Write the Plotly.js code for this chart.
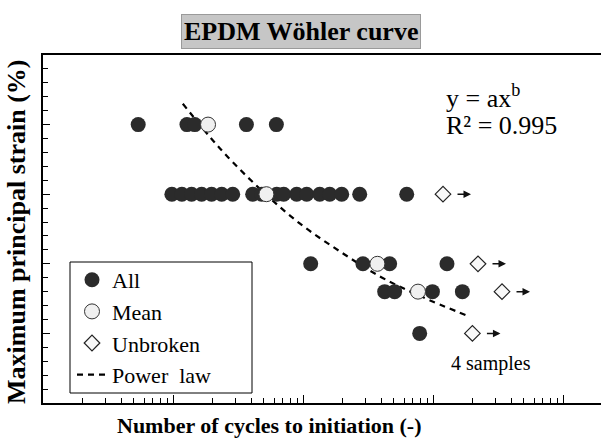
<!DOCTYPE html>
<html>
<head>
<meta charset="utf-8">
<script src="https://cdn.plot.ly/plotly-3.0.1.min.js"></script>
<style>html,body{margin:0;padding:0;background:#fff;}#chart{width:601px;height:441px;}</style>
</head>
<body>
<div id="chart"></div>
<script>
// Number of cycles to initiation (all broken samples) and their max principal strain level
var allCycles = [5400, 12800, 14700, 36700, 62400,
  9800, 11700, 13900, 16600, 19800, 23700, 28800, 41000, 48100, 62800, 71000, 89400, 106800, 134500, 160500, 198500, 273000, 628000,
  114600, 289000, 464000, 1281000,
  425000, 507000, 990000, 1683000,
  790000];
var allStrain = [20, 20, 20, 20, 20,
  15, 15, 15, 15, 15, 15, 15, 15, 15, 15, 15, 15, 15, 15, 15, 15, 15, 15,
  10, 10, 10, 10,
  8, 8, 8, 8,
  5];
// Mean per strain level
var meanCycles = [18600, 52300, 373600, 766600];
var meanStrain = [20, 15, 10, 8];
// Unbroken (run-out) samples
var unbrokenCycles = [1194000, 2219000, 3395000, 2010000];
var unbrokenStrain = [15, 10, 8, 5];
// Power law fit line
var fitCycles = [11900, 22900, 46400, 94300, 191600, 389000, 790000, 1916000];
var fitStrain = [21.5, 18.3, 15.4, 12.9, 10.9, 9.1, 7.7, 6.2];

var serif = 'Liberation Serif, Times New Roman, serif';

var traces = [
  {x: fitCycles, y: fitStrain, type: 'scatter', mode: 'lines', name: 'Power\u00a0 law', legendgroup: 'd', legendrank: 4,
   line: {color: '#000', width: 2.2, dash: '6px,5px', shape: 'spline'}},
  {x: allCycles, y: allStrain, type: 'scatter', mode: 'markers', name: 'All', legendgroup: 'a', legendrank: 1,
   marker: {symbol: 'circle', size: 15, color: '#2b2b2b', line: {width: 0}}},
  {x: meanCycles, y: meanStrain, type: 'scatter', mode: 'markers', name: 'Mean', legendgroup: 'b', legendrank: 2,
   marker: {symbol: 'circle', size: 15, color: '#f0f0f0', line: {width: 1, color: '#333'}}},
  {x: unbrokenCycles, y: unbrokenStrain, type: 'scatter', mode: 'markers', name: 'Unbroken', legendgroup: 'c', legendrank: 3,
   marker: {symbol: 'diamond', size: 12, color: '#f8f8f8', line: {width: 1.2, color: '#222'}}}
];

var L = 43, T = 55, W = 558, H = 348;
function px(x) { return (x - L) / W; }
function py(y) { return (T + H - y) / H; }

var annotations = [
  {text: '<b>EPDM Wöhler curve</b>', xref: 'paper', yref: 'paper', x: px(301), y: py(31),
   xanchor: 'center', yanchor: 'middle', showarrow: false,
   font: {family: serif, size: 26, color: '#000'}, bgcolor: '#c6c6c6', bordercolor: '#9a9a9a', borderwidth: 1, borderpad: 2},
  {text: '<b>Number of cycles to initiation (-)</b>', xref: 'paper', yref: 'paper', x: px(269), y: py(425),
   xanchor: 'center', yanchor: 'middle', showarrow: false, font: {family: serif, size: 22, color: '#000'}},
  {text: '<b>Maximum principal strain (%)</b>', xref: 'paper', yref: 'paper', x: px(16), y: py(232),
   xanchor: 'center', yanchor: 'middle', showarrow: false, textangle: -90, font: {family: serif, size: 26, color: '#000'}},
  {text: 'y = ax<sup>b</sup>', xref: 'paper', yref: 'paper', x: px(444), y: py(96),
   xanchor: 'left', yanchor: 'middle', showarrow: false, font: {family: serif, size: 26, color: '#000'}},
  {text: 'R² = 0.995', xref: 'paper', yref: 'paper', x: px(444), y: py(126),
   xanchor: 'left', yanchor: 'middle', showarrow: false, font: {family: serif, size: 26, color: '#000'}},
  {text: '4 samples', xref: 'paper', yref: 'paper', x: px(491), y: py(363),
   xanchor: 'center', yanchor: 'middle', showarrow: false, font: {family: serif, size: 20, color: '#000'}}
];
for (var i = 0; i < unbrokenCycles.length; i++) {
  annotations.push({x: Math.log10(unbrokenCycles[i]), y: unbrokenStrain[i], xref: 'x', yref: 'y',
    text: '', showarrow: true, arrowhead: 2, arrowsize: 1, arrowwidth: 1.5, arrowcolor: '#111',
    ax: -15, ay: 0, xshift: 28});
}

var layout = {
  width: 601, height: 441,
  margin: {l: L, r: 0, t: T, b: 441 - T - H, pad: 0},
  paper_bgcolor: '#fff', plot_bgcolor: '#fff',
  showlegend: true,
  legend: {x: px(72), y: py(259), xanchor: 'left', yanchor: 'top', bgcolor: 'rgba(0,0,0,0)',
    borderwidth: 0, tracegroupgap: 0, traceorder: 'normal',
    font: {family: serif, size: 22, color: '#000'}},
  shapes: [
    {type: 'rect', xref: 'paper', yref: 'paper', x0: px(70), x1: px(252), y0: py(262), y1: py(393),
     line: {color: '#000', width: 1}, fillcolor: '#fff', layer: 'below'}
  ],
  xaxis: {type: 'log', range: [3, 3 + 558 / 130], showline: true, linewidth: 2, linecolor: '#000', mirror: true,
    ticks: 'inside', ticklen: 8, tickwidth: 1, tickcolor: '#000', dtick: 1, showticklabels: false,
    showgrid: false, zeroline: false,
    minor: {ticks: 'inside', ticklen: 5, tickwidth: 1, tickcolor: '#000', dtick: 'D1', showgrid: false}},
  yaxis: {range: [0, 25], showline: true, linewidth: 2, linecolor: '#000', mirror: false,
    ticks: 'inside', ticklen: 7, tickwidth: 1, tickcolor: '#000', dtick: 5, showticklabels: false,
    showgrid: false, zeroline: false,
    minor: {ticks: 'inside', ticklen: 5, tickwidth: 1, tickcolor: '#000', dtick: 1, showgrid: false}},
  annotations: annotations
};

Plotly.newPlot('chart', traces, layout, {displayModeBar: false, staticPlot: true});
</script>
</body>
</html>
